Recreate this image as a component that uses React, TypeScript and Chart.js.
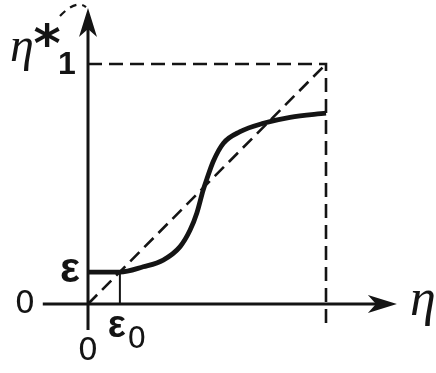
import React, { useEffect, useRef } from "react";
import { Chart, registerables } from "chart.js";

Chart.register(...registerables);

// Transfer characteristic eta* = f(eta): flat at epsilon up to epsilon0, then an S-shaped rise
const EPS = 0.133;
const EPS0 = 0.134;
const curveX = [0, 0.134, 0.232, 0.316, 0.387, 0.429, 0.457, 0.484, 0.499, 0.527, 0.569, 0.639, 0.737, 0.849, 1.0];
const curveY = [EPS, EPS, 0.155, 0.183, 0.239, 0.308, 0.378, 0.475, 0.52, 0.596, 0.67, 0.718, 0.753, 0.778, 0.795];

// Reference diagonal eta* = eta and the unit box
const diagX = [0, 1];
const diagY = [0, 1];
const boxX = [0, 1, 1];
const boxY = [1, 1, -0.09];

// Axis extents (arrow tips at the far ends)
const xAxisFrom = -0.19;
const xAxisTip = 1.298;
const yAxisFrom = -0.108;
const yAxisTip = 1.233;

const INK = "#141414";

const pts = (xs: number[], ys: number[]) => xs.map((x, i) => ({ x, y: ys[i] }));

const annotate = {
  id: "annotate",
  afterDatasetsDraw(chart: any) {
    const { ctx, scales } = chart;
    const px = (v: number) => scales.x.getPixelForValue(v);
    const py = (v: number) => scales.y.getPixelForValue(v);
    const ox = px(0);
    const oy = py(0);
    ctx.save();
    ctx.fillStyle = INK;
    ctx.strokeStyle = INK;

    // arrow heads
    const head = (tx: number, ty: number, dx: number, dy: number) => {
      const L = 29, W = 9, N = 21;
      const nx = -dy, ny = dx;
      ctx.beginPath();
      ctx.moveTo(tx, ty);
      ctx.lineTo(tx - dx * L + nx * W, ty - dy * L + ny * W);
      ctx.lineTo(tx - dx * N, ty - dy * N);
      ctx.lineTo(tx - dx * L - nx * W, ty - dy * L - ny * W);
      ctx.closePath();
      ctx.fill();
    };
    head(px(xAxisTip), oy, 1, 0);
    head(ox, py(yAxisTip), 0, -1);

    // small dashed arc off the top of the vertical axis
    ctx.setLineDash([7, 6]);
    ctx.lineWidth = 2.2;
    ctx.beginPath();
    const ty = py(yAxisTip);
    ctx.moveTo(ox - 28, ty + 8);
    ctx.quadraticCurveTo(ox - 12, ty - 9, ox - 2, ty - 1);
    ctx.stroke();
    ctx.setLineDash([]);

    // labels
    ctx.textBaseline = "middle";
    ctx.textAlign = "center";
    ctx.font = "italic 48px 'Liberation Serif'";
    ctx.fillText("η", ox - 66, oy - 256);
    ctx.font = "italic 52px 'Liberation Serif'";
    ctx.fillText("η", px(xAxisTip) + 26, oy - 3);
    ctx.font = "bold 52px 'DejaVu Sans'";
    ctx.fillText("*", ox - 41, oy - 257);

    ctx.font = "bold 32px 'Liberation Sans'";
    ctx.fillText("1", ox - 21, py(1) + 1);
    ctx.font = "32px 'DejaVu Sans'";
    ctx.fillText("0", ox - 63, oy + 1);
    ctx.fillText("0", ox, oy + 48);
    ctx.font = "bold 42px 'Liberation Sans'";
    ctx.fillText("ε", ox - 18, py(EPS) - 2);
    ctx.font = "bold 38px 'Liberation Sans'";
    ctx.fillText("ε", px(EPS0) - 3, oy + 23);
    ctx.font = "30px 'DejaVu Sans'";
    ctx.fillText("0", px(EPS0) + 17, oy + 36);
    ctx.restore();
  },
};

export default function App() {
  const ref = useRef<HTMLCanvasElement | null>(null);

  useEffect(() => {
    if (!ref.current) return;
    const W = 436, H = 373;
    // unit square spans 238 px horizontally and 240 px vertically
    const xMin = -88 / 238, xMax = xMin + W / 238;
    const yMax = 1 + 64 / 240, yMin = yMax - H / 240;

    const line = (data: any[], width: number, dash: number[] = []) => ({
      data,
      borderColor: INK,
      borderWidth: width,
      borderDash: dash,
      pointRadius: 0,
      fill: false,
      tension: 0,
    });

    const chart = new Chart(ref.current, {
      type: "line",
      data: {
        datasets: [
          line(pts(boxX, boxY), 2.6, [14, 7]),
          line(pts(diagX, diagY), 2.6, [13, 7]),
          line(pts([xAxisFrom, xAxisTip - 0.08], [0, 0]), 3),
          line(pts([0, 0], [yAxisFrom, yAxisTip - 0.08]), 3),
          line(pts([EPS0, EPS0], [0, EPS]), 2),
          { ...line(pts(curveX, curveY), 4.8), cubicInterpolationMode: "monotone" as const },
        ],
      },
      options: {
        animation: false,
        responsive: false,
        maintainAspectRatio: false,
        devicePixelRatio: 1,
        layout: { padding: 0 },
        plugins: { legend: { display: false }, tooltip: { enabled: false } },
        scales: {
          x: { type: "linear", min: xMin, max: xMax, display: false },
          y: { type: "linear", min: yMin, max: yMax, display: false },
        },
      },
      plugins: [annotate],
    });
    return () => chart.destroy();
  }, []);

  return (
    <div style={{ position: "absolute", left: 0, top: 0, width: 436, height: 373, background: "#fff" }}>
      <canvas ref={ref} width={436} height={373} />
    </div>
  );
}
